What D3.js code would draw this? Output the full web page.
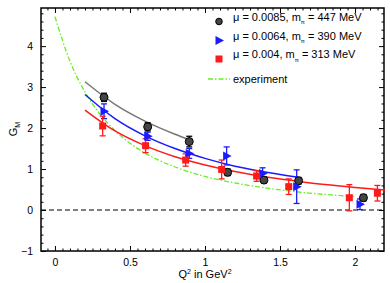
<!DOCTYPE html>
<html lang="en">
<head>
  <meta charset="UTF-8">
  <title>G_M vs Q^2</title>
  <script src="https://d3js.org/d3.v7.min.js"></script>
  <style>
    body { margin: 0; background: white; font-family: "Liberation Sans", Arial, sans-serif; }
    svg text { font-family: "Liberation Sans", Arial, sans-serif; }
  </style>
</head>
<body>
  <svg width="390" height="283"></svg>
  <script>
    // lattice points: [Q2, GM, err]
    const black = [[0.327, 2.75, 0.10], [0.618, 2.03, 0.10], [0.895, 1.67, 0.13], [1.151, 0.92, 0.08],
                   [1.393, 0.73, 0.07], [1.624, 0.715, 0.08], [2.056, 0.30, 0.08]];
    const blue = [[0.327, 2.41, 0.18], [0.618, 1.80, 0.10], [0.895, 1.38, 0.12], [1.144, 1.32, 0.22],
                  [1.384, 0.89, 0.14], [1.611, 0.57, 0.41], [2.033, 0.14, 0.13]];
    const red = [[0.318, 2.05, 0.24], [0.604, 1.57, 0.17], [0.871, 1.22, 0.15], [1.111, 0.99, 0.23],
                 [1.344, 0.83, 0.13], [1.558, 0.57, 0.19], [1.962, 0.30, 0.32], [2.149, 0.41, 0.19]];

    // fit curves
    const grayFit = [[0.2, 3.13], [0.4, 2.58], [0.6, 2.17], [0.8, 1.85], [0.9, 1.71]];
    const blueFit = [[0.2, 2.82], [0.4, 2.23], [0.6, 1.81], [0.8, 1.50], [1.0, 1.26], [1.2, 1.07], [1.4, 0.93], [1.62, 0.80]];
    const redFit = [[0.2, 2.44], [0.4, 1.93], [0.6, 1.57], [0.8, 1.30], [1.0, 1.10], [1.2, 0.94], [1.4, 0.81],
                    [1.6, 0.71], [1.8, 0.62], [2.0, 0.55], [2.2, 0.49]];
    const experiment = [[0, 4.72], [0.1, 3.63], [0.2, 2.88], [0.3, 2.34], [0.4, 1.94], [0.5, 1.63], [0.6, 1.39],
                        [0.8, 1.05], [1.0, 0.82], [1.2, 0.66], [1.4, 0.54], [1.6, 0.45], [1.8, 0.38], [2.0, 0.33]];

    const xTicks = [0, 0.5, 1, 1.5, 2];
    const yTicks = [-1, 0, 1, 2, 3, 4];
    const legendLabels = [["μ = 0.0085, m", " = 447 MeV"], ["μ = 0.0064, m", " = 390 MeV"], ["μ = 0.004, m", " = 313 MeV"]];

    const svg = d3.select("svg");
    const m = {left: 41, top: 8, right: 6, bottom: 32};
    const w = 390 - m.left - m.right, h = 283 - m.top - m.bottom;
    const g = svg.append("g").attr("transform", `translate(${m.left},${m.top})`);

    const x = d3.scaleLinear().domain([-0.093, 2.193]).range([0, w]);
    const y = d3.scaleLinear().domain([-1, 4.93]).range([h, 0]);

    const xMinor = d3.range(-0.05, 2.2, 0.05).filter(v => Math.abs(v * 2 - Math.round(v * 2)) > 1e-6);
    const yMinor = d3.range(-0.8, 4.9, 0.2).filter(v => Math.abs(v - Math.round(v)) > 1e-6);

    // axes, ticks inward on all four sides
    function ax(axisFn, scale, ticks, size, fmt, tr) {
      const a = g.append("g").attr("transform", tr || null)
        .call(axisFn(scale).tickValues(ticks).tickSize(size).tickSizeOuter(0).tickFormat(fmt).tickPadding(8));
      a.select(".domain").remove();
      a.selectAll("line").attr("stroke", "#000").attr("stroke-width", 1);
      return a;
    }
    const fmtX = d => d, fmtY = d => d < 0 ? "−" + Math.abs(d) : d;
    ax(d3.axisBottom, x, xTicks, -5, fmtX, `translate(0,${h})`).selectAll("text").attr("font-size", 10.5).attr("fill", "#000");
    ax(d3.axisBottom, x, xMinor, -2.5, "", `translate(0,${h})`);
    ax(d3.axisTop, x, xTicks, -5, "");
    ax(d3.axisTop, x, xMinor, -2.5, "");
    ax(d3.axisLeft, y, yTicks, -5, fmtY).selectAll("text").attr("font-size", 10.5).attr("fill", "#000");
    ax(d3.axisLeft, y, yMinor, -2.5, "");
    ax(d3.axisRight, y, yTicks, -5, "", `translate(${w},0)`);
    ax(d3.axisRight, y, yMinor, -2.5, "", `translate(${w},0)`);

    g.append("rect").attr("width", w).attr("height", h).attr("fill", "none").attr("stroke", "#000").attr("stroke-width", 1.5);

    // zero line
    g.append("line").attr("x1", 0).attr("x2", w).attr("y1", y(0)).attr("y2", y(0))
      .attr("stroke", "#000").attr("stroke-width", 1.2).attr("stroke-dasharray", "5,3");

    const line = d3.line().x(d => x(d[0])).y(d => y(d[1])).curve(d3.curveMonotoneX);
    g.append("path").datum(experiment).attr("d", line).attr("fill", "none")
      .attr("stroke", "#66ee22").attr("stroke-width", 1.3).attr("stroke-dasharray", "5,2,1.5,2");
    [[grayFit, "#777"], [blueFit, "#1a1aff"], [redFit, "#ff1a1a"]].forEach(([d, c]) => {
      g.append("path").datum(d).attr("d", line).attr("fill", "none").attr("stroke", c).attr("stroke-width", 1.5);
    });

    function errBars(data, color) {
      const eb = g.append("g").attr("stroke", color).attr("stroke-width", 1.3);
      data.forEach(d => {
        const cx = x(d[0]), y1 = y(d[1] + d[2]), y2 = y(d[1] - d[2]);
        eb.append("line").attr("x1", cx).attr("x2", cx).attr("y1", y1).attr("y2", y2);
        eb.append("line").attr("x1", cx - 3).attr("x2", cx + 3).attr("y1", y1).attr("y2", y1);
        eb.append("line").attr("x1", cx - 3).attr("x2", cx + 3).attr("y1", y2).attr("y2", y2);
      });
    }
    errBars(black, "#000");
    errBars(blue, "#1a1aff");
    errBars(red, "#ff1a1a");

    const tri = "M-3.5,-4.5L5,0L-3.5,4.5Z";
    g.selectAll(".bk").data(black).join("circle").attr("cx", d => x(d[0])).attr("cy", d => y(d[1]))
      .attr("r", 4).attr("fill", "#444").attr("stroke", "#000").attr("stroke-width", 1);
    g.selectAll(".bl").data(blue).join("path").attr("d", tri)
      .attr("transform", d => `translate(${x(d[0])},${y(d[1])})`).attr("fill", "#1a1aff");
    g.selectAll(".rd").data(red).join("rect").attr("x", d => x(d[0]) - 3.5).attr("y", d => y(d[1]) - 3.5)
      .attr("width", 7).attr("height", 7).attr("fill", "#ff1a1a");

    // legend
    const lg = svg.append("g");
    const rows = [21.5, 40.5, 59];
    lg.append("circle").attr("cx", 219).attr("cy", rows[0]).attr("r", 3.3).attr("fill", "#444").attr("stroke", "#000");
    lg.append("path").attr("d", tri).attr("transform", `translate(219,${rows[1]})`).attr("fill", "#1a1aff");
    lg.append("rect").attr("x", 215.5).attr("y", rows[2] - 3.5).attr("width", 7).attr("height", 7).attr("fill", "#ff1a1a");
    legendLabels.forEach((l, i) => {
      const t = lg.append("text").attr("x", 233).attr("y", rows[i] - 1).attr("font-size", 11).attr("fill", "#000");
      t.append("tspan").text(l[0]);
      t.append("tspan").text("π").attr("font-size", 6).attr("dy", 3.5);
      t.append("tspan").text(l[1]).attr("dy", -3.5);
    });
    lg.append("line").attr("x1", 208).attr("x2", 230).attr("y1", 79).attr("y2", 79)
      .attr("stroke", "#66ee22").attr("stroke-width", 1.3).attr("stroke-dasharray", "5,2,1.5,2");
    lg.append("text").attr("x", 233).attr("y", 83).attr("font-size", 11).text("experiment");

    // axis titles
    const xt = svg.append("text").attr("x", 205).attr("y", 278).attr("text-anchor", "middle").attr("font-size", 11);
    xt.append("tspan").text("Q");
    xt.append("tspan").text("2").attr("font-size", 7).attr("dy", -4);
    xt.append("tspan").text(" in GeV").attr("dy", 4);
    xt.append("tspan").text("2").attr("font-size", 7).attr("dy", -4);

    const yt = svg.append("text").attr("transform", "translate(17,129) rotate(-90)").attr("text-anchor", "middle").attr("font-size", 11);
    yt.append("tspan").text("G");
    yt.append("tspan").text("M").attr("font-size", 7).attr("dy", 2.5);
  </script>
</body>
</html>
